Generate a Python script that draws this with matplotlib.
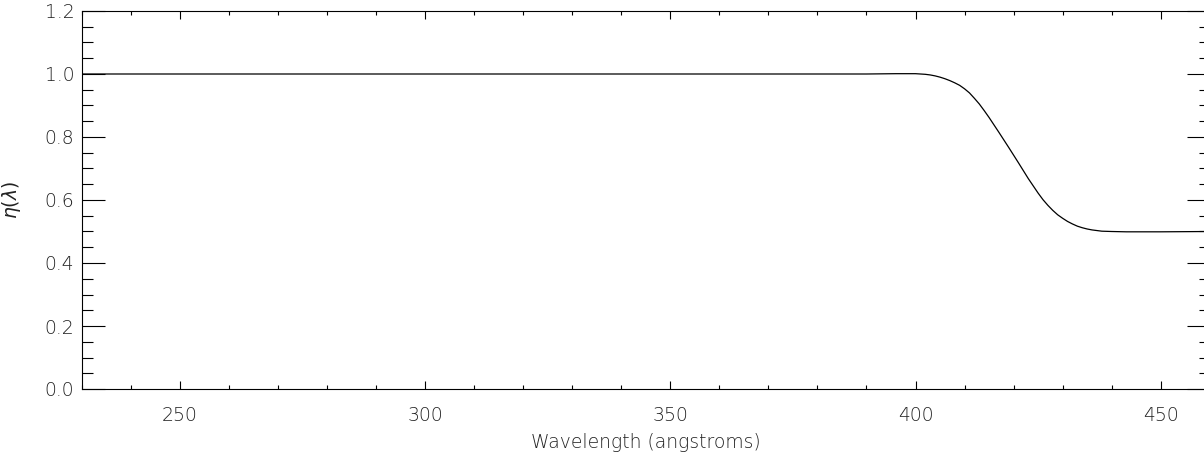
import matplotlib
matplotlib.use('Agg')
import matplotlib.pyplot as plt
from matplotlib.ticker import MultipleLocator

# values
wavelength = [230, 300, 350, 390, 396, 400, 402, 403, 404, 405, 406, 407, 408,
              409, 410, 411, 412, 413, 414, 415, 417, 419, 421, 423, 425, 426,
              427, 428, 429, 430, 431, 432, 433, 434, 435, 436, 437, 438, 440,
              443, 445, 450, 460]
efficiency = [1.0, 1.0, 1.0, 1.0, 1.001, 1.001, 0.999, 0.997, 0.994, 0.99,
              0.985, 0.979, 0.972, 0.964, 0.953, 0.94, 0.923, 0.905, 0.884,
              0.862, 0.815, 0.767, 0.718, 0.668, 0.622, 0.601, 0.583, 0.567,
              0.553, 0.542, 0.532, 0.524, 0.517, 0.512, 0.508, 0.505, 0.503,
              0.501, 0.500, 0.499, 0.499, 0.499, 0.500]

W, H = 1204, 453
fig = plt.figure(figsize=(W / 100, H / 100), dpi=100)
# the right spine sits just outside the picture, as in the reference
ax = fig.add_axes([82 / W, (H - 389) / H, (1209.7 - 82) / W, (389 - 11) / H])

ax.plot(wavelength, efficiency, color='black', lw=0.9)

ax.set_xlim(230, 460)
ax.set_ylim(0.0, 1.2)

ax.xaxis.set_major_locator(MultipleLocator(50))
ax.xaxis.set_minor_locator(MultipleLocator(10))
ax.yaxis.set_major_locator(MultipleLocator(0.2))
ax.yaxis.set_minor_locator(MultipleLocator(0.05))
ax.yaxis.set_major_formatter(plt.FormatStrFormatter('%.1f'))

txt = '#222222'
fsize = 13.5
ax.tick_params(axis='both', which='both', direction='in', top=True, right=True,
               width=0.8, color='black', labelcolor=txt, labelsize=fsize)
ax.tick_params(axis='x', which='major', length=5.8, pad=12)
ax.tick_params(axis='x', which='minor', length=2.8)
ax.tick_params(axis='y', which='major', length=16.5, pad=5.5)
ax.tick_params(axis='y', which='minor', length=8)

for s in ax.spines.values():
    s.set_linewidth(0.8)

for lab in ax.get_xticklabels() + ax.get_yticklabels():
    lab.set_fontweight('light')

ax.set_xlabel('Wavelength (angstroms)', fontsize=fsize, color=txt, fontweight='light')
ax.set_ylabel(r'$\eta(\lambda)$', fontsize=fsize, color=txt)
ax.xaxis.set_label_coords(0.5, -0.116)
ax.yaxis.set_label_coords(-0.052, 0.5)

fig.savefig('out.png', dpi=100)
